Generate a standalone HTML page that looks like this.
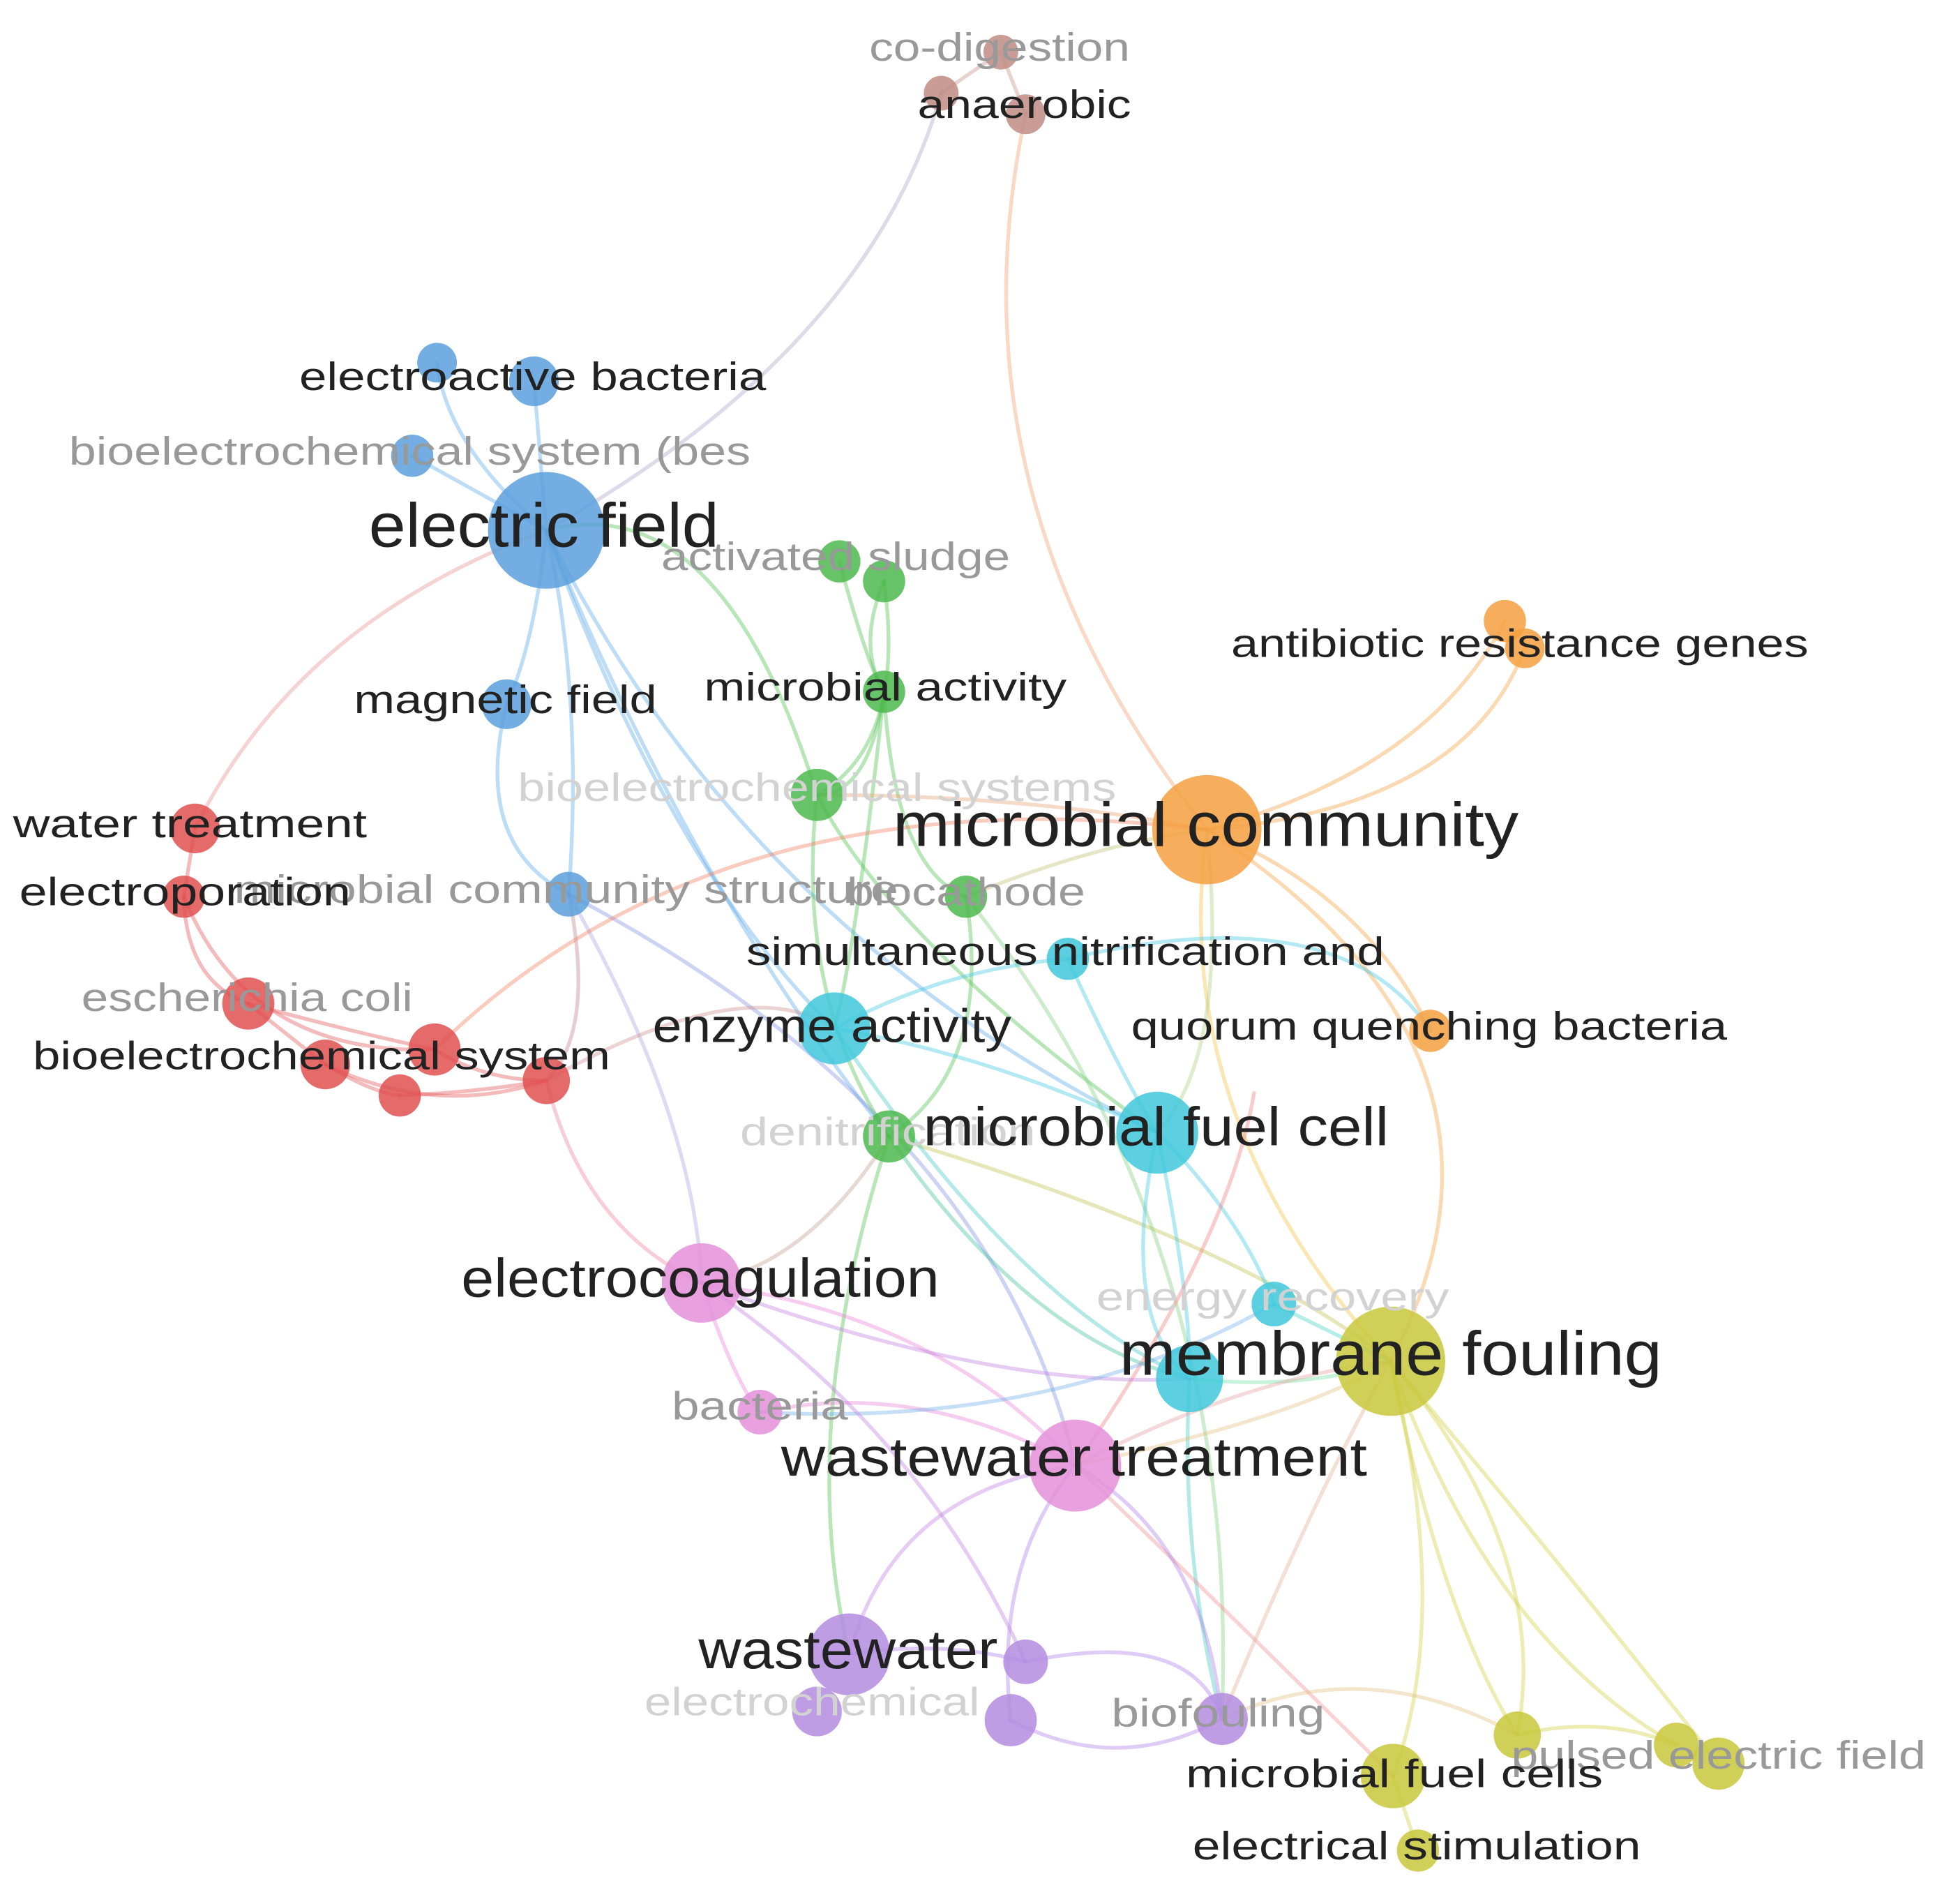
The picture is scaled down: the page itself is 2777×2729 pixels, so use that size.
<!DOCTYPE html>
<html><head><meta charset="utf-8"><style>
html,body{margin:0;padding:0;background:#fff}
svg{display:block}
text{font-family:"Liberation Sans",sans-serif;text-anchor:middle}
.d{fill:#222}.g{fill:#999}.f{fill:#d2d2d2}
</style></head><body>
<svg width="2777" height="2729" viewBox="0 0 1560 1533" preserveAspectRatio="none" xmlns="http://www.w3.org/2000/svg">
<rect width="1560" height="1533" fill="#fff"/>
<g fill="none" stroke-width="3" stroke-opacity="0.4" stroke-linecap="round">
<path d="M758,75 Q700,280 440,427" stroke="#b0a0c8"/>
<path d="M826,92 Q760,400 972,668" stroke="#f0a070"/>
<path d="M758,75 L806,42 L826,92" stroke="#c49088"/>
<path d="M440,427 Q360,360 352,292" stroke="#5aa8e8"/>
<path d="M440,427 L430,307" stroke="#5aa8e8"/>
<path d="M440,427 L332,367" stroke="#5aa8e8"/>
<path d="M440,427 Q430,520 408,567" stroke="#5aa8e8"/>
<path d="M440,427 Q470,560 458,720" stroke="#5aa8e8"/>
<path d="M440,427 Q540,700 672,828" stroke="#5aa8e8"/>
<path d="M440,427 Q600,750 932,912" stroke="#5aa8e8"/>
<path d="M440,427 Q560,720 716,915" stroke="#5aa8e8"/>
<path d="M440,427 Q240,500 157,667" stroke="#e89090"/>
<path d="M408,567 Q380,680 458,720" stroke="#5aa8e8"/>
<path d="M458,720 Q560,900 565,1033" stroke="#b0a0e0"/>
<path d="M458,720 Q800,900 866,1180" stroke="#8090e0"/>
<path d="M458,720 Q480,830 440,870" stroke="#c08090"/>
<path d="M440,427 Q580,390 658,640" stroke="#50c050"/>
<path d="M676,452 Q700,540 712,557" stroke="#50c050"/>
<path d="M712,468 Q690,520 712,557" stroke="#50c050"/>
<path d="M712,468 Q730,600 658,640" stroke="#50c050"/>
<path d="M712,557 Q700,640 658,640" stroke="#50c050"/>
<path d="M712,557 Q720,700 778,722" stroke="#50c050"/>
<path d="M712,557 Q690,760 672,828" stroke="#50c050"/>
<path d="M658,640 Q830,640 972,668" stroke="#e8a070"/>
<path d="M658,640 Q640,800 716,915" stroke="#50c050"/>
<path d="M658,640 Q720,760 932,912" stroke="#50c050"/>
<path d="M778,722 Q880,680 972,668" stroke="#c0c070"/>
<path d="M778,722 Q800,860 716,915" stroke="#50c050"/>
<path d="M716,915 Q640,1150 684,1332" stroke="#50c050"/>
<path d="M716,915 Q1000,1000 1120,1096" stroke="#c0c050"/>
<path d="M716,915 Q650,1020 565,1033" stroke="#c0a090"/>
<path d="M716,915 Q830,1080 958,1110" stroke="#40c0a0"/>
<path d="M778,722 Q1000,1000 984,1384" stroke="#80d080"/>
<path d="M972,668 Q1150,620 1212,500" stroke="#f5a040"/>
<path d="M972,668 Q1180,650 1228,522" stroke="#f5a040"/>
<path d="M972,668 Q1100,720 1152,830" stroke="#f5a040"/>
<path d="M972,668 Q1250,850 1120,1096" stroke="#f5a040"/>
<path d="M972,668 Q940,900 1120,1096" stroke="#f0c040"/>
<path d="M972,668 Q580,620 350,845" stroke="#f08060"/>
<path d="M972,668 Q990,850 932,912" stroke="#b0d080"/>
<path d="M672,828 Q800,850 932,912" stroke="#40c8e0"/>
<path d="M860,772 Q760,780 672,828" stroke="#40c8e0"/>
<path d="M860,772 Q900,860 932,912" stroke="#40c8e0"/>
<path d="M932,912 Q1000,980 1026,1050" stroke="#40c8e0"/>
<path d="M932,912 Q900,1060 958,1110" stroke="#40c8e0"/>
<path d="M932,912 Q960,1050 958,1110" stroke="#40c8e0"/>
<path d="M1026,1050 L1120,1096" stroke="#40d8c0"/>
<path d="M958,1110 Q1050,1120 1120,1096" stroke="#70e0a0"/>
<path d="M958,1110 Q950,1250 984,1384" stroke="#40c8c0"/>
<path d="M672,828 Q820,1050 958,1110" stroke="#40c8c0"/>
<path d="M860,772 Q1080,720 1152,830" stroke="#40c8e0"/>
<path d="M157,667 L148,722" stroke="#e05555"/>
<path d="M148,722 Q150,790 200,808" stroke="#e05555"/>
<path d="M200,808 Q280,830 350,845" stroke="#e05555"/>
<path d="M200,808 Q240,840 262,857" stroke="#e05555"/>
<path d="M262,857 Q300,880 322,882" stroke="#e05555"/>
<path d="M262,857 Q350,900 440,870" stroke="#e05555"/>
<path d="M350,845 Q390,870 440,870" stroke="#e05555"/>
<path d="M322,882 Q380,880 440,870" stroke="#e05555"/>
<path d="M148,722 Q200,850 350,845" stroke="#e05555"/>
<path d="M440,870 Q470,990 565,1033" stroke="#f080a0"/>
<path d="M440,870 Q600,780 672,828" stroke="#d09090"/>
<path d="M866,1180 Q990,1000 1010,880" stroke="#f08080"/>
<path d="M565,1033 Q760,1060 866,1180" stroke="#e880d8"/>
<path d="M565,1033 Q590,1110 612,1137" stroke="#e880d8"/>
<path d="M565,1033 Q800,1120 958,1110" stroke="#c080e0"/>
<path d="M612,1137 Q740,1110 866,1180" stroke="#e880d8"/>
<path d="M866,1180 Q1000,1110 1120,1096" stroke="#e0a0a0"/>
<path d="M612,1137 Q850,1150 1026,1050" stroke="#70b0e8"/>
<path d="M866,1180 Q940,1250 1122,1430" stroke="#f09090"/>
<path d="M866,1180 Q800,1260 814,1385" stroke="#b080e8"/>
<path d="M866,1180 Q970,1240 984,1384" stroke="#b080e8"/>
<path d="M684,1332 Q760,1320 826,1338" stroke="#b080e8"/>
<path d="M826,1338 Q960,1310 984,1384" stroke="#b080e8"/>
<path d="M814,1385 Q900,1430 984,1384" stroke="#b080e8"/>
<path d="M565,1033 Q740,1150 826,1338" stroke="#c080e0"/>
<path d="M684,1332 Q720,1200 866,1180" stroke="#c080e0"/>
<path d="M1120,1096 Q1170,1300 1122,1430" stroke="#d0d040"/>
<path d="M1120,1096 Q1160,1300 1222,1397" stroke="#d0d040"/>
<path d="M1120,1096 Q1200,1320 1350,1405" stroke="#d0d040"/>
<path d="M1120,1096 Q1250,1250 1384,1420" stroke="#d0d040"/>
<path d="M1120,1096 Q1250,1250 1222,1397" stroke="#d0d040"/>
<path d="M1122,1430 L1142,1490" stroke="#d0d040"/>
<path d="M1222,1397 Q1290,1380 1350,1405" stroke="#d0d040"/>
<path d="M984,1384 Q1060,1200 1120,1096" stroke="#e0b090"/>
<path d="M984,1384 Q1100,1330 1222,1397" stroke="#e0c080"/>
<path d="M866,1180 Q1050,1140 1120,1096" stroke="#e0c080"/>
</g>
<g fill-opacity="0.85">
<circle cx="806" cy="42" r="14" fill="#c08c84"/>
<circle cx="758" cy="75" r="14" fill="#c08c84"/>
<circle cx="826" cy="92" r="16" fill="#c08c84"/>
<circle cx="352" cy="292" r="16" fill="#5a9fdc"/>
<circle cx="430" cy="307" r="20" fill="#5a9fdc"/>
<circle cx="332" cy="367" r="17" fill="#5a9fdc"/>
<circle cx="440" cy="427" r="47" fill="#5a9fdc"/>
<circle cx="676" cy="452" r="17" fill="#4cb84c"/>
<circle cx="712" cy="468" r="17" fill="#4cb84c"/>
<circle cx="408" cy="567" r="20" fill="#5a9fdc"/>
<circle cx="712" cy="557" r="17" fill="#4cb84c"/>
<circle cx="658" cy="640" r="21" fill="#4cb84c"/>
<circle cx="1212" cy="500" r="17" fill="#f5a040"/>
<circle cx="1228" cy="522" r="16" fill="#f5a040"/>
<circle cx="972" cy="668" r="44" fill="#f5a040"/>
<circle cx="157" cy="667" r="20" fill="#e05050"/>
<circle cx="148" cy="722" r="17" fill="#e05050"/>
<circle cx="458" cy="720" r="18" fill="#5a9fdc"/>
<circle cx="778" cy="722" r="17" fill="#4cb84c"/>
<circle cx="860" cy="772" r="17" fill="#40c8dc"/>
<circle cx="200" cy="808" r="21" fill="#e05050"/>
<circle cx="350" cy="845" r="21" fill="#e05050"/>
<circle cx="262" cy="857" r="20" fill="#e05050"/>
<circle cx="322" cy="882" r="17" fill="#e05050"/>
<circle cx="440" cy="870" r="19" fill="#e05050"/>
<circle cx="672" cy="828" r="29" fill="#40c8dc"/>
<circle cx="1152" cy="830" r="17" fill="#f5a040"/>
<circle cx="932" cy="912" r="33" fill="#40c8dc"/>
<circle cx="716" cy="915" r="21" fill="#4cb84c"/>
<circle cx="565" cy="1033" r="32" fill="#e490d8"/>
<circle cx="1026" cy="1050" r="18" fill="#40c8dc"/>
<circle cx="958" cy="1110" r="27" fill="#40c8dc"/>
<circle cx="1120" cy="1096" r="44" fill="#c8c83c"/>
<circle cx="612" cy="1137" r="18" fill="#e490d8"/>
<circle cx="866" cy="1180" r="37" fill="#e490d8"/>
<circle cx="684" cy="1332" r="33" fill="#b48ce0"/>
<circle cx="658" cy="1378" r="20" fill="#b48ce0"/>
<circle cx="826" cy="1338" r="18" fill="#b48ce0"/>
<circle cx="814" cy="1385" r="21" fill="#b48ce0"/>
<circle cx="984" cy="1384" r="21" fill="#b48ce0"/>
<circle cx="1122" cy="1430" r="26" fill="#c8c83c"/>
<circle cx="1142" cy="1490" r="17" fill="#c8c83c"/>
<circle cx="1222" cy="1397" r="19" fill="#c8c83c"/>
<circle cx="1350" cy="1405" r="18" fill="#c8c83c"/>
<circle cx="1384" cy="1420" r="21" fill="#c8c83c"/>
</g>
<g font-size="32" transform="translate(-1,-3)">
<text class="g" x="806" y="52" textLength="210" lengthAdjust="spacingAndGlyphs">co-digestion</text>
<text class="d" x="826" y="98" textLength="172" lengthAdjust="spacingAndGlyphs">anaerobic</text>
<text class="d" x="430" y="317" textLength="376" lengthAdjust="spacingAndGlyphs">electroactive bacteria</text>
<text class="g" x="331" y="377" textLength="549" lengthAdjust="spacingAndGlyphs">bioelectrochemical system (bes</text>
<text class="d" x="439" y="443" font-size="50" textLength="282" lengthAdjust="spacingAndGlyphs">electric field</text>
<text class="g" x="674" y="462" textLength="281" lengthAdjust="spacingAndGlyphs">activated sludge</text>
<text class="d" x="408" y="577" textLength="244" lengthAdjust="spacingAndGlyphs">magnetic field</text>
<text class="d" x="714" y="567" textLength="292" lengthAdjust="spacingAndGlyphs">microbial activity</text>
<text class="f" x="659" y="648" textLength="482" lengthAdjust="spacingAndGlyphs">bioelectrochemical systems</text>
<text class="d" x="1225" y="532" textLength="465" lengthAdjust="spacingAndGlyphs">antibiotic resistance genes</text>
<text class="d" x="972" y="684" font-size="50" textLength="504" lengthAdjust="spacingAndGlyphs">microbial community</text>
<text class="d" x="154" y="677" textLength="285" lengthAdjust="spacingAndGlyphs">water treatment</text>
<text class="g" x="457" y="730" textLength="535" lengthAdjust="spacingAndGlyphs">microbial community structure</text>
<text class="d" x="150" y="732" textLength="267" lengthAdjust="spacingAndGlyphs">electroporation</text>
<text class="g" x="779" y="732" textLength="192" lengthAdjust="spacingAndGlyphs">biocathode</text>
<text class="d" x="859" y="780" textLength="514" lengthAdjust="spacingAndGlyphs">simultaneous nitrification and</text>
<text class="g" x="200" y="817" textLength="267" lengthAdjust="spacingAndGlyphs">escherichia coli</text>
<text class="d" x="260" y="864" textLength="465" lengthAdjust="spacingAndGlyphs">bioelectrochemical system</text>
<text class="d" x="671" y="842" font-size="38" textLength="289" lengthAdjust="spacingAndGlyphs">enzyme activity</text>
<text class="d" x="1152" y="840" textLength="480" lengthAdjust="spacingAndGlyphs">quorum quenching bacteria</text>
<text class="f" x="716" y="925" textLength="238" lengthAdjust="spacingAndGlyphs">denitrification</text>
<text class="d" x="932" y="925" font-size="44" textLength="375" lengthAdjust="spacingAndGlyphs">microbial fuel cell</text>
<text class="d" x="565" y="1047" font-size="44" textLength="385" lengthAdjust="spacingAndGlyphs">electrocoagulation</text>
<text class="f" x="1026" y="1058" textLength="284" lengthAdjust="spacingAndGlyphs">energy recovery</text>
<text class="d" x="1121" y="1110" font-size="50" textLength="437" lengthAdjust="spacingAndGlyphs">membrane fouling</text>
<text class="g" x="613" y="1146" textLength="142" lengthAdjust="spacingAndGlyphs">bacteria</text>
<text class="d" x="866" y="1191" font-size="44" textLength="472" lengthAdjust="spacingAndGlyphs">wastewater treatment</text>
<text class="d" x="684" y="1346" font-size="44" textLength="241" lengthAdjust="spacingAndGlyphs">wastewater</text>
<text class="f" x="655" y="1384" textLength="270" lengthAdjust="spacingAndGlyphs">electrochemical</text>
<text class="g" x="982" y="1393" textLength="172" lengthAdjust="spacingAndGlyphs">biofouling</text>
<text class="g" x="1385" y="1427" textLength="334" lengthAdjust="spacingAndGlyphs">pulsed electric field</text>
<text class="d" x="1124" y="1442" textLength="336" lengthAdjust="spacingAndGlyphs">microbial fuel cells</text>
<text class="d" x="1142" y="1500" textLength="361" lengthAdjust="spacingAndGlyphs">electrical stimulation</text>
</g>
</svg>
</body></html>
